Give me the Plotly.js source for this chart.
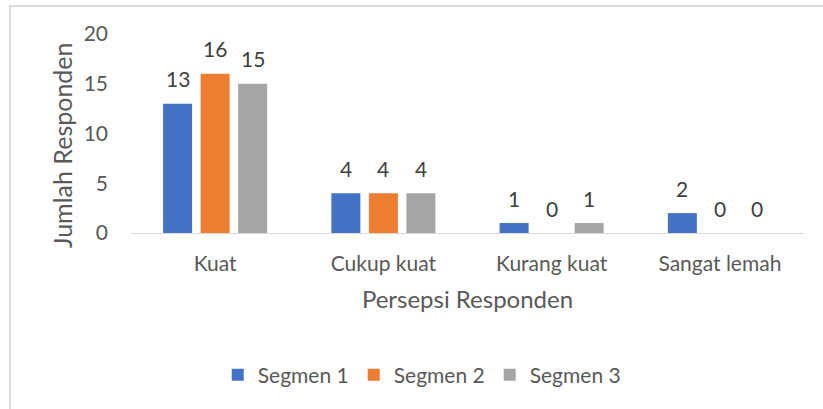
<!DOCTYPE html>
<html>
<head>
<meta charset="utf-8">
<script src="https://cdn.plot.ly/plotly-3.0.1.min.js"></script>
<style>
html,body{margin:0;padding:0;background:#fff;}
#wrap{position:relative;width:823px;height:409px;overflow:hidden;}
#chart{position:absolute;left:0;top:0;width:823px;height:409px;}
#frame{position:absolute;left:9px;top:5px;width:830px;height:420px;border-top:2px solid #d9d9d9;border-left:2px solid #d9d9d9;pointer-events:none;}
</style>
</head>
<body>
<div id="wrap"><div id="chart"></div><div id="frame"></div></div>
<script>
const categories = ["Kuat", "Cukup kuat", "Kurang kuat", "Sangat lemah"];
const seriesNames = ["Segmen 1", "Segmen 2", "Segmen 3"];
const segmen1 = [13, 4, 1, 2];
const segmen2 = [16, 4, 0, 0];
const segmen3 = [15, 4, 1, 0];
const colors = ["#4472C4", "#ED7D31", "#A5A5A5"];
const yTicks = [0, 5, 10, 15, 20];
const yTitle = "Jumlah Responden";
const xTitle = "Persepsi Responden";

const FONT = "Lato, Open Sans, sans-serif";
const FS = 21;
const seriesVals = [segmen1, segmen2, segmen3];
const traces = seriesVals.map((vals, i) => ({
  type: "bar",
  name: seriesNames[i],
  x: categories,
  y: vals,
  marker: {color: colors[i]},
  hoverinfo: "skip"
}));

// data labels as annotations above each bar
const annotations = [];
seriesVals.forEach((vals, i) => {
  vals.forEach((v, j) => {
    annotations.push({
      x: categories[j], y: v, xref: "x", yref: "y",
      text: String(v), showarrow: false,
      xshift: (i - 1) * 37.5, yshift: 25, yanchor: "middle",
      font: {family: FONT, size: FS, color: "#404040"}
    });
  });
});
// y-axis title (offset downward as in the reference)
annotations.push({
  xref: "paper", yref: "paper", x: -0.1025, y: 0.442,
  xanchor: "center", yanchor: "middle", textangle: -90,
  text: yTitle, showarrow: false,
  font: {family: FONT, size: 25, color: "#595959"}
});

const layout = {
  width: 823, height: 409,
  margin: {l: 131, r: 19, t: 34, b: 176, pad: 0},
  paper_bgcolor: "#fff", plot_bgcolor: "#fff",
  barmode: "group",
  bargap: 0.331,
  bargroupgap: 0.227,
  showlegend: true,
  legend: {
    orientation: "h", x: 0.432, xanchor: "center", y: -0.714, yanchor: "middle",
    font: {family: FONT, size: FS, color: "#595959"},
    itemwidth: 30, traceorder: "normal"
  },
  font: {family: FONT, color: "#595959"},
  annotations: annotations,
  xaxis: {
    type: "category", automargin: false,
    showline: true, linecolor: "#d9d9d9", linewidth: 1,
    showgrid: false, ticks: "", ticklen: 0,
    tickfont: {family: FONT, size: FS, color: "#595959"},
    ticklabelstandoff: 12,
    title: {text: xTitle, font: {family: FONT, size: 24, color: "#595959"}, standoff: 16}
  },
  yaxis: {
    range: [0, 20], tickvals: yTicks, ticktext: yTicks.map(String), automargin: false,
    showline: false, showgrid: false, zeroline: false, ticks: "",
    tickfont: {family: FONT, size: FS, color: "#595959"},
    ticklabelstandoff: 22
  }
};

Plotly.newPlot("chart", traces, layout, {displayModeBar: false, staticPlot: true});
</script>
</body>
</html>
